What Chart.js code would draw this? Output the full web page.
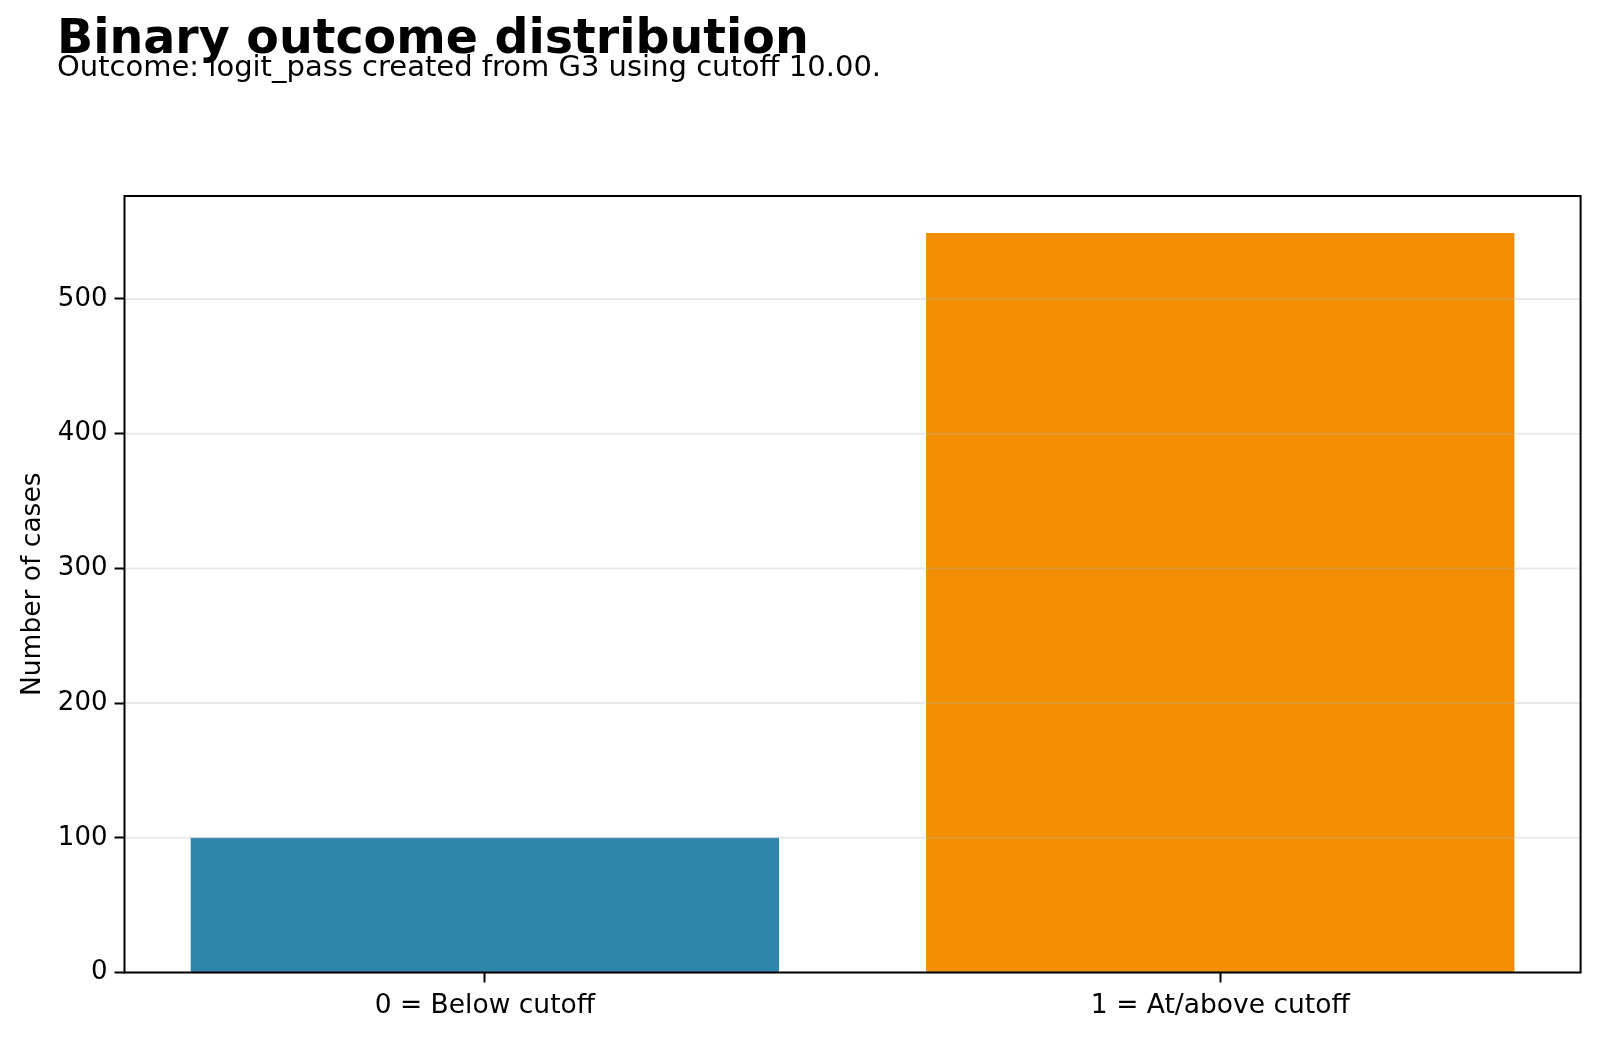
<!DOCTYPE html>
<html>
<head>
<meta charset="utf-8">
<script src="https://cdn.jsdelivr.net/npm/chart.js@4/dist/chart.umd.min.js"></script>
<style>
html,body{margin:0;padding:0;background:#fff;}
#wrap{width:1600px;height:1037px;position:relative;}
</style>
</head>
<body>
<div id="wrap"><canvas id="c" width="1600" height="1037"></canvas></div>
<script>
const titleText = "Binary outcome distribution";
const subtitleText = "Outcome: logit_pass created from G3 using cutoff 10.00.";
const categoryLabels = ["0 = Below cutoff", "1 = At/above cutoff"];
const categoryPositions = [0, 1];
const caseCounts = [100, 549];
const barColors = ["#2E86AB", "#F18F01"];
const yTickValues = [0, 100, 200, 300, 400, 500];
const yAxisTitle = "Number of cases";
const xLimits = [-0.49, 1.49];
const yLimits = [0, 576.45];

const FONT = "'DejaVu Sans', sans-serif";

const framePlugin = {
  id: 'frame',
  afterDatasetsDraw(chart) {
    const {ctx, chartArea: a, scales} = chart;
    ctx.save();
    ctx.strokeStyle = 'rgba(176,176,176,0.27)';
    ctx.lineWidth = 2;
    yTickValues.forEach(v => {
      const y = scales.y.getPixelForValue(v);
      ctx.beginPath();
      ctx.moveTo(a.left, y);
      ctx.lineTo(a.right, y);
      ctx.stroke();
    });
    ctx.strokeStyle = '#000';
    ctx.lineWidth = 2;
    ctx.strokeRect(a.left, a.top, a.right - a.left, a.bottom - a.top);
    ctx.restore();
  },
  afterDraw(chart) {
    const ctx = chart.ctx;
    ctx.save();
    ctx.fillStyle = '#000';
    ctx.textAlign = 'left';
    ctx.textBaseline = 'alphabetic';
    ctx.font = "bold 47.5px " + FONT;
    ctx.fillText(titleText, 57, 53);
    ctx.font = "29px " + FONT;
    ctx.fillText(subtitleText, 57, 76);
    ctx.restore();
  }
};

new Chart(document.getElementById('c'), {
  type: 'bar',
  data: {
    datasets: [{
      data: categoryPositions.map((x, i) => ({x: x, y: caseCounts[i]})),
      backgroundColor: barColors,
      borderWidth: 0,
      barPercentage: 0.8,
      categoryPercentage: 1.0
    }]
  },
  options: {
    responsive: false,
    animation: false,
    devicePixelRatio: 1,
    layout: {padding: {left: 0, top: 196, right: 19.4, bottom: 0}},
    plugins: {legend: {display: false}, tooltip: {enabled: false}, title: {display: false}},
    scales: {
      x: {
        type: 'linear',
        min: xLimits[0],
        max: xLimits[1],
        offset: false,
        afterBuildTicks(scale) { scale.ticks = categoryPositions.map(v => ({value: v})); },
        afterFit(scale) { scale.height = 64.5; },
        grid: {display: true, offset: false, color: 'rgba(0,0,0,0)', drawTicks: true, tickLength: 10, tickColor: '#000', tickWidth: 2},
        border: {display: false},
        ticks: {
          color: '#000',
          font: {family: FONT, size: 26.5},
          padding: 8,
          maxRotation: 0,
          autoSkip: false,
          callback: (v) => categoryLabels[categoryPositions.indexOf(v)]
        }
      },
      y: {
        min: yLimits[0],
        max: yLimits[1],
        afterBuildTicks(scale) { scale.ticks = yTickValues.map(v => ({value: v})); },
        afterFit(scale) { scale.width = 124.5; },
        grid: {display: true, offset: false, color: 'rgba(0,0,0,0)', drawTicks: true, tickLength: 10, tickColor: '#000', tickWidth: 2},
        border: {display: false},
        ticks: {
          color: '#000',
          font: {family: FONT, size: 26},
          padding: 7,
          callback: (v) => String(v)
        },
        title: {
          display: true,
          text: yAxisTitle,
          color: '#000',
          font: {family: FONT, size: 26.5},
          padding: {top: 17, bottom: 0}
        }
      }
    }
  },
  plugins: [framePlugin]
});
</script>
</body>
</html>
